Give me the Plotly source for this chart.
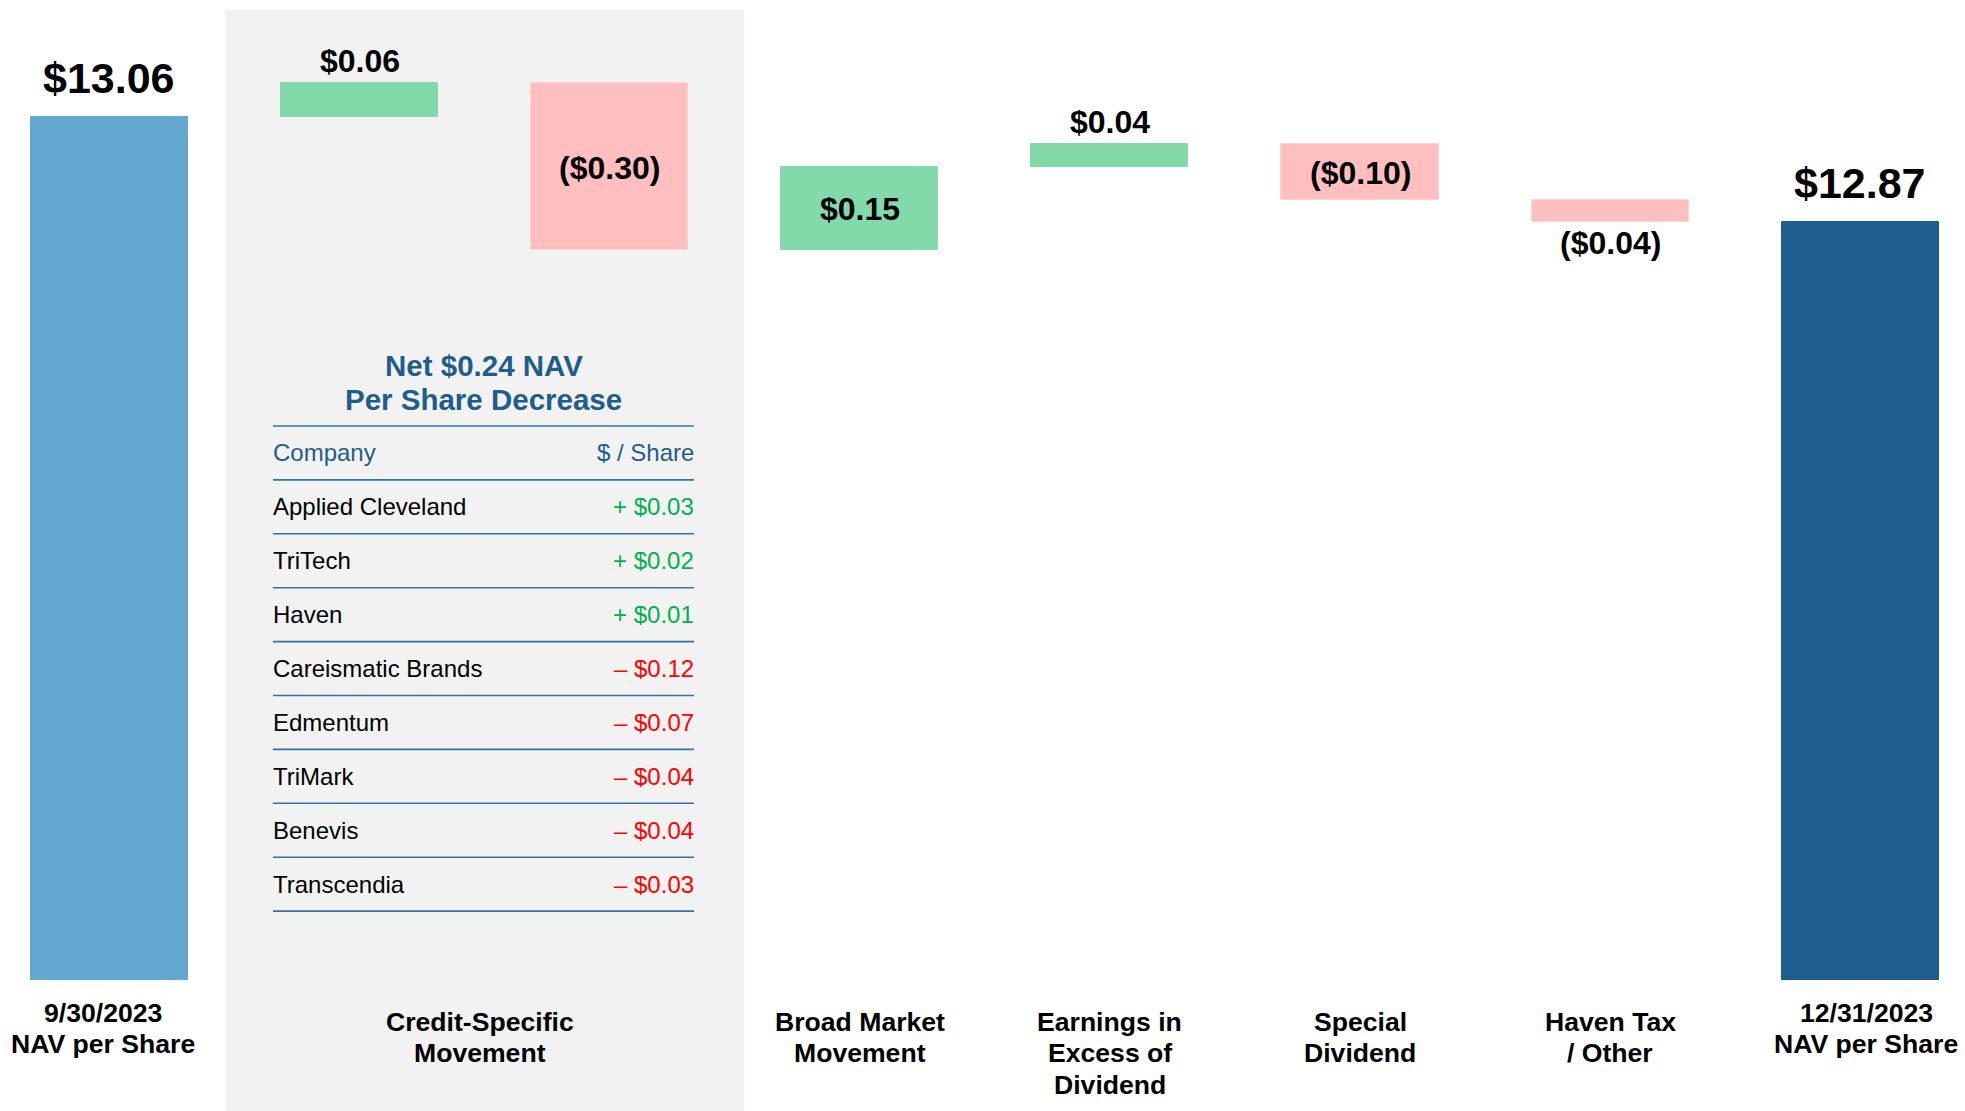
import plotly.graph_objects as go

# ------------------------------------------------------------------ data
start_label = "9/30/2023<br>NAV per Share"
end_label = "12/31/2023<br>NAV per Share"
start_nav = 13.06
end_nav = 12.87
change_labels = [
    "Credit-Specific<br>Movement",
    "Credit-Specific<br>Movement",
    "Broad Market<br>Movement",
    "Earnings in<br>Excess of<br>Dividend",
    "Special<br>Dividend",
    "Haven Tax<br>/ Other",
]
changes = [0.06, -0.30, 0.15, 0.04, -0.10, -0.04]

table_title = ["Net $0.24 NAV", "Per Share Decrease"]
table_header = ["Company", "$ / Share"]
companies = ["Applied Cleveland", "TriTech", "Haven", "Careismatic Brands",
             "Edmentum", "TriMark", "Benevis", "Transcendia"]
per_share = [0.03, 0.02, 0.01, -0.12, -0.07, -0.04, -0.04, -0.03]

# ------------------------------------------------------------------ style
W, H = 1965, 1111
PLOT_H = 980
FONT = "Liberation Sans, Arial, Helvetica, sans-serif"
C_START = "#62A7D0"
C_END = "#1F5D8C"
C_POS = "#83D9AA"
C_NEG = "#FFBFBF"
C_BAND = "#F2F2F2"
C_BLUE = "#1F5D8C"
C_LINE = "#3570A8"
C_GREEN = "#00B050"
C_RED = "#FF0000"


def py(pix):
    return 1 - pix / PLOT_H


def pxx(pix):
    return pix / W


# ------------------------------------------------------------------ bars
labels = [start_label] + change_labels + [end_label]
n = len(labels)
xs = list(range(n))
bases, ys, colors, kinds = [], [], [], []
bases.append(0)
ys.append(start_nav)
colors.append(C_START)
kinds.append("total")
running = start_nav
for c in changes:
    bases.append(running)
    ys.append(c)
    colors.append(C_POS if c > 0 else C_NEG)
    kinds.append("change")
    running += c
bases.append(0)
ys.append(end_nav)
colors.append(C_END)
kinds.append("total")

fig = go.Figure()
fig.add_trace(go.Bar(
    x=xs, y=ys, base=bases, width=0.628,
    marker=dict(color=colors,
                line=dict(color=[("#FFD3D3" if col == C_NEG else col) for col in colors], width=1)),
    hoverinfo="skip", showlegend=False,
))

annotations = []

# value labels on bars
for i in range(n):
    v = ys[i]
    if kinds[i] == "total":
        txt = f"${v:.2f}"
        annotations.append(dict(x=xs[i], y=v, xref="x", yref="y", text=txt, showarrow=False,
                                yanchor="middle", yshift=39, borderpad=0, borderwidth=0,
                                font=dict(family=FONT, size=43, color="black", weight="bold")))
    else:
        txt = f"${v:.2f}" if v > 0 else f"(${abs(v):.2f})"
        top = bases[i] + v
        if abs(v) < 0.08:
            if v > 0:
                y, ysh = top, 22
            else:
                y, ysh = top, -21
        else:
            y, ysh = bases[i] + v / 2, -1
        annotations.append(dict(x=xs[i], y=y, xref="x", yref="y", text=txt, showarrow=False,
                                yanchor="middle", yshift=ysh, borderpad=0, borderwidth=0,
                                font=dict(family=FONT, size=32, color="black", weight="bold")))

# category labels (grouped)
groups = []
for i, lab in enumerate(labels):
    if groups and groups[-1][0] == lab:
        groups[-1][1].append(i)
    else:
        groups.append([lab, [i]])
for gi, (lab, idx) in enumerate(groups):
    xc = sum(xs[k] for k in idx) / len(idx)
    is_total = kinds[idx[0]] == "total"
    first_center = 1012.7 if is_total else 1021.5
    if is_total:
        xsh = -6 if gi == 0 else 6
    else:
        xsh = -5 if len(idx) > 1 else 0
    for li, line in enumerate(lab.split("<br>")):
        annotations.append(dict(x=xc, y=py(first_center + 31.6 * li), xref="x", yref="paper",
                                text=line, showarrow=False, xanchor="center", yanchor="middle",
                                xshift=xsh, borderpad=0, borderwidth=0,
                                font=dict(family=FONT, size=26.6, color="black", weight="bold")))

# ------------------------------------------------------------------ shapes
shapes = []
# shaded band behind credit-specific group
credit_idx = groups[1][1]
band_center = sum(xs[k] for k in credit_idx) / len(credit_idx)
shapes.append(dict(type="rect", xref="x", yref="paper",
                   x0=band_center - 1.038, x1=band_center + 1.038,
                   y0=py(H), y1=py(10),
                   fillcolor=C_BAND, line=dict(width=0), layer="below"))

# table
TL, TR = 273, 694
ROW0 = 426
ROWH = 53.9
n_lines = len(companies) + 2
for i in range(n_lines):
    yy = py(ROW0 + ROWH * i)
    shapes.append(dict(type="line", xref="paper", yref="paper", x0=pxx(TL), x1=pxx(TR),
                       y0=yy, y1=yy, line=dict(color=C_LINE, width=1.6)))

tcenter = pxx((TL + TR) / 2)
for li, line in enumerate(table_title):
    annotations.append(dict(x=tcenter, y=py(365.3 + 34.5 * li), xref="paper", yref="paper",
                            text=line, showarrow=False, xanchor="center", yanchor="middle",
                            borderpad=0, borderwidth=0,
                            font=dict(family=FONT, size=29.5, color=C_BLUE, weight="bold")))

hdr_y = py(ROW0 + ROWH * 0.5)
annotations.append(dict(x=pxx(TL), y=hdr_y, xref="paper", yref="paper", text=table_header[0],
                        showarrow=False, xanchor="left", yanchor="middle", borderpad=0, borderwidth=0,
                        font=dict(family=FONT, size=24, color=C_BLUE)))
annotations.append(dict(x=pxx(TR), y=hdr_y, xref="paper", yref="paper", text=table_header[1],
                        showarrow=False, xanchor="right", yanchor="middle", borderpad=0, borderwidth=0,
                        font=dict(family=FONT, size=24, color=C_BLUE)))

for r, (comp, val) in enumerate(zip(companies, per_share)):
    yy = py(ROW0 + ROWH * (r + 1.5))
    annotations.append(dict(x=pxx(TL), y=yy, xref="paper", yref="paper", text=comp,
                            showarrow=False, xanchor="left", yanchor="middle", borderpad=0, borderwidth=0,
                            font=dict(family=FONT, size=24, color="black")))
    vtxt = f"+ ${val:.2f}" if val > 0 else f"\u2013 ${abs(val):.2f}"
    annotations.append(dict(x=pxx(TR), y=yy, xref="paper", yref="paper", text=vtxt,
                            showarrow=False, xanchor="right", yanchor="middle", borderpad=0, borderwidth=0,
                            font=dict(family=FONT, size=24, color=C_GREEN if val > 0 else C_RED)))

# ------------------------------------------------------------------ layout
fig.update_layout(
    width=W, height=H,
    margin=dict(l=0, r=0, t=0, b=H - PLOT_H, pad=0),
    paper_bgcolor="white", plot_bgcolor="rgba(0,0,0,0)",
    xaxis=dict(range=[-0.4378, 7.419], visible=False, fixedrange=True),
    yaxis=dict(range=[11.5017, 13.2707], visible=False, fixedrange=True),
    shapes=shapes, annotations=annotations,
    hovermode=False, bargap=0,
    font=dict(family=FONT),
)

fig.write_html("out.html", config={"displayModeBar": False},
               post_script="document.body.style.margin='0';document.body.style.overflow='hidden';")
